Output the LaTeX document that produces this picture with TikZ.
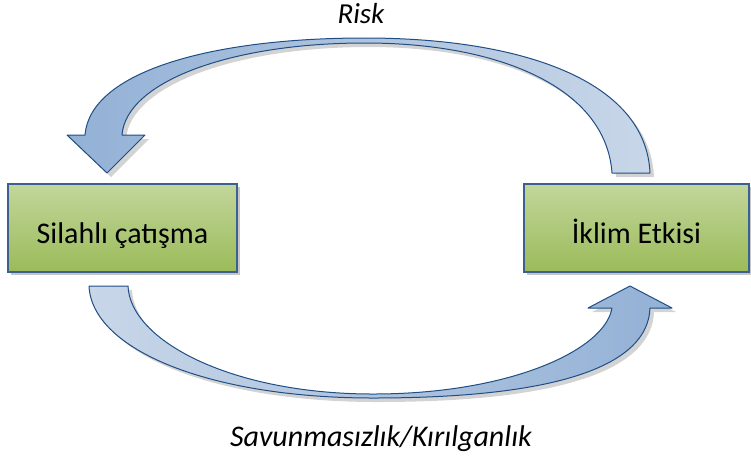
\documentclass[tikz,border=0pt]{standalone}
\usepackage{fontspec}
\setmainfont{Carlito}
\usetikzlibrary{shadows}
\definecolor{boxtop}{HTML}{C2D69B}
\definecolor{boxbot}{HTML}{9BBB59}
\definecolor{boxline}{HTML}{3C6090}
\definecolor{arrdark}{HTML}{93B1D6}
\definecolor{arrlight}{HTML}{C8D6E8}
\definecolor{arrline}{HTML}{1F4E85}
\tikzset{
  box/.style={draw=boxline, line width=1.1pt, top color=boxtop, bottom color=boxbot,
    minimum height=88pt, inner sep=0pt, text height=30pt, text depth=0pt,
    drop shadow={opacity=0.45, shadow xshift=3pt, shadow yshift=-3pt},
    font=\fontsize{30}{36}\selectfont},
  blockarrow/.style={draw=arrline, line width=1pt, line join=round,
    drop shadow={opacity=0.35, shadow xshift=4pt, shadow yshift=-4pt}},
  lbl/.style={font=\fontsize{30}{36}\selectfont\itshape, anchor=base, inner sep=0pt}
}
\begin{document}
\begin{tikzpicture}[x=1pt,y=-1pt]
\useasboundingbox (0,0) rectangle (751,456);
\node[box, minimum width=229pt] (sc) at (122.5,228) {Silahlı çatışma};
\node[box, minimum width=225pt] (ie) at (636.5,228) {İklim Etkisi};
% top arrow: from ie to sc
\path[blockarrow, left color=arrdark, right color=arrlight]
  (612,173) -- (650,173)
  .. controls (646,80) and (520,38) .. (365,38)
  .. controls (210,38) and (90,72) .. (85,135)
  -- (67,135) -- (107,173) -- (145,135) -- (122,135)
  .. controls (126,82) and (230,43) .. (365,43)
  .. controls (500,43) and (606,88) .. (612,173) -- cycle;
% bottom arrow: from sc to ie
\path[blockarrow, left color=arrlight, right color=arrdark]
  (89,286) -- (128,286)
  .. controls (130,340) and (230,394) .. (373,394)
  .. controls (510,394) and (605,350) .. (612,308)
  -- (588,308) -- (630,286) -- (672,308) -- (650,308)
  .. controls (648,365) and (560,398) .. (373,398)
  .. controls (210,398) and (92,350) .. (89,286) -- cycle;
\node[lbl, font=\fontsize{29}{35}\selectfont\itshape] (risk) at (361,23) {Risk};
\node[lbl] (sav) at (381,446) {Savunmasızlık/Kırılganlık};
\end{tikzpicture}
\end{document}
